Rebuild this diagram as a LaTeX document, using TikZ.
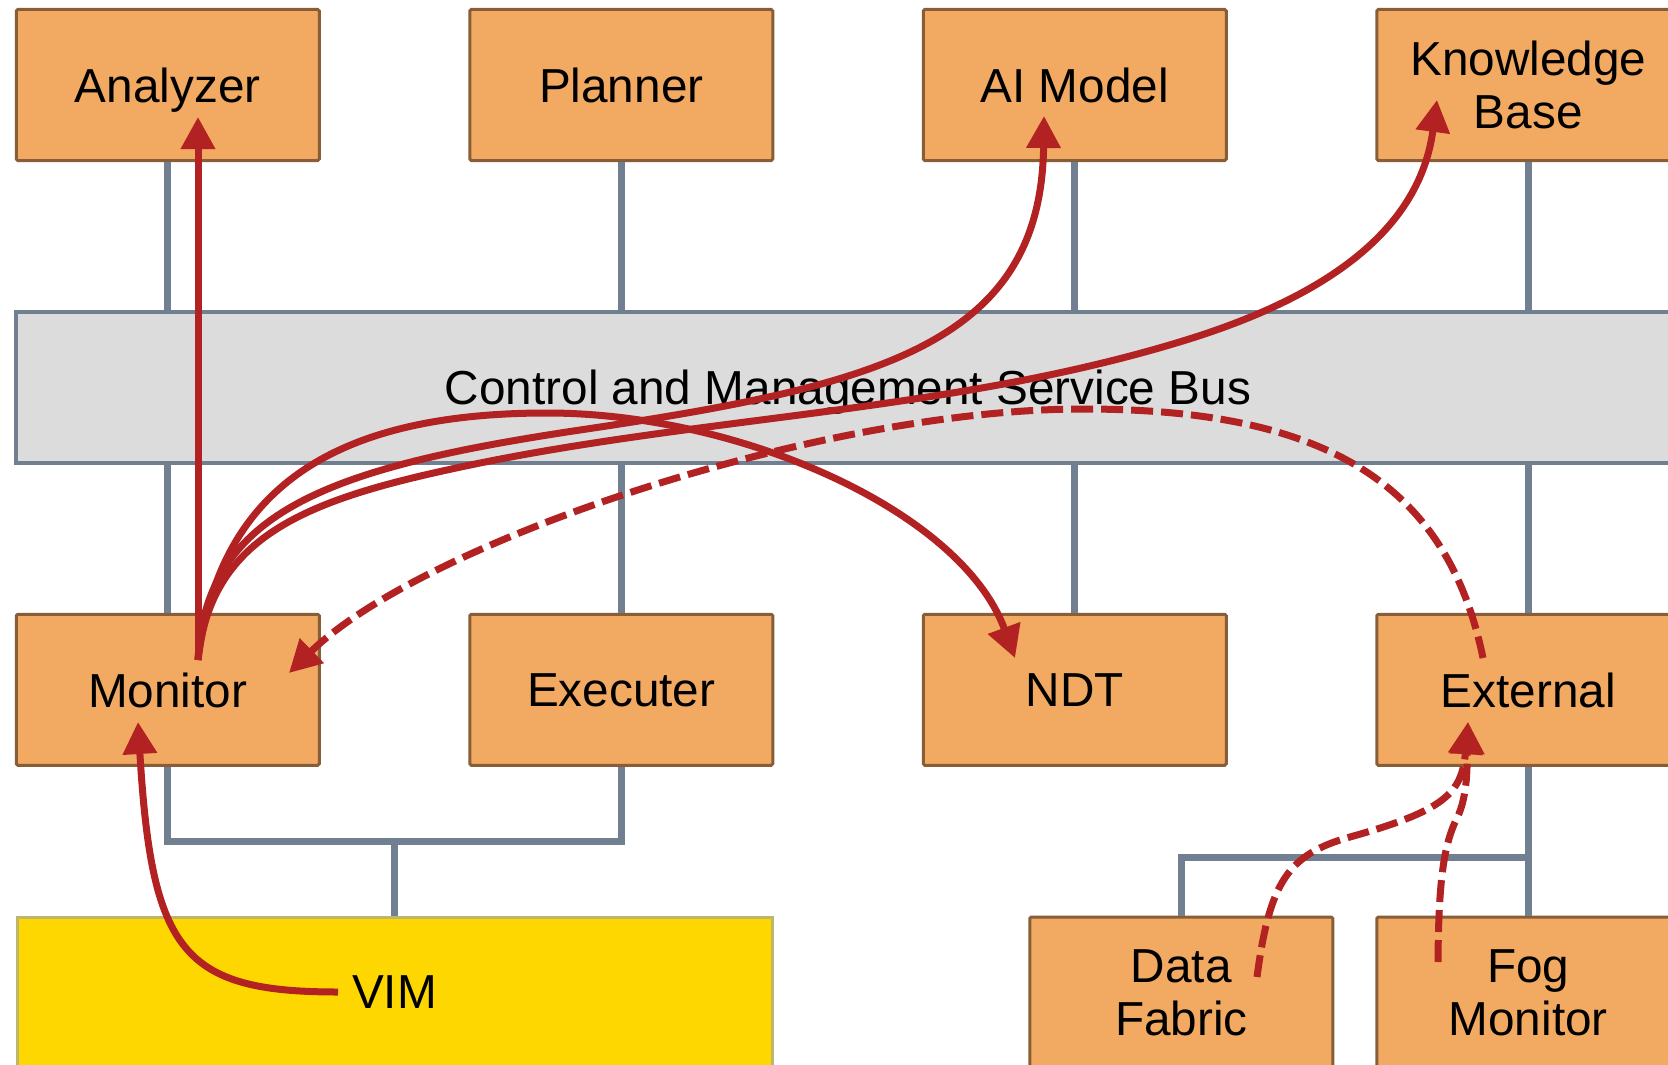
\documentclass[tikz,border=0pt]{standalone}
\usepackage{fontspec}
\setmainfont{Liberation Sans}
\usetikzlibrary{arrows.meta}
\definecolor{boxfill}{RGB}{242,169,97}
\definecolor{boxline}{RGB}{135,94,55}
\definecolor{conn}{RGB}{112,128,144}
\definecolor{busfill}{RGB}{220,220,220}
\definecolor{flow}{RGB}{178,34,34}
\definecolor{vimfill}{RGB}{255,215,0}
\definecolor{vimline}{RGB}{189,183,107}
\begin{document}
\begin{tikzpicture}[x=1pt,y=-1pt,
  comp/.style={draw=boxline, fill=boxfill, line width=3pt, minimum width=303pt,
    minimum height=151pt, inner sep=0pt, rounded corners=1.5pt,
    font=\fontsize{47.7}{53.3}\selectfont, align=center},
  oneline/.style={text depth=0pt},
  busbox/.style={draw=conn, fill=busfill, line width=3.5pt, minimum width=1664pt,
    minimum height=151pt, inner sep=0pt, font=\fontsize{47.7}{53.3}\selectfont, text depth=0pt},
  vimbox/.style={draw=vimline, fill=vimfill, line width=3pt, minimum width=755pt,
    minimum height=151pt, inner sep=0pt, font=\fontsize{47.7}{53.3}\selectfont, text depth=0pt},
  link/.style={draw=conn, line width=7pt},
  flowline/.style={draw=flow, line width=7pt, -{Triangle[width=33pt,length=32pt]}},
  flowdash/.style={flowline, dash pattern=on 22pt off 8pt},
]
\useasboundingbox (0,0) rectangle (1668,1065);

% bus
\node[busbox] (bus) at (848,387.5) {Control and Management Service Bus};

% top row
\node[comp,oneline] (analyzer) at (167.75,85) {Analyzer};
\node[comp,oneline] (planner)  at (621.25,85) {Planner};
\node[comp,oneline] (aimodel)  at (1074.75,85) {AI Model};
\node[comp] (kb) at (1528.25,85) {Knowledge\\Base};

% middle row
\node[comp,oneline] (monitor)  at (167.75,689.75) {Monitor};
\node[comp,oneline] (executer) at (621.25,689.75) {Executer};
\node[comp,oneline] (ndt)      at (1074.75,689.75) {NDT};
\node[comp,oneline] (external) at (1528.25,689.75) {External};

% bottom row
\node[vimbox] (vim) at (394.5,992.5) {VIM};
\node[comp] (datafabric) at (1181.25,992.5) {Data\\Fabric};
\node[comp] (fogmon) at (1528.25,992.5) {Fog\\Monitor};

% grey connectors
\foreach \n in {analyzer,planner,aimodel,kb}
  \draw[link] (\n.south) -- (\n.south |- bus.north);
\foreach \n in {monitor,executer,ndt,external}
  \draw[link] (\n.north) -- (\n.north |- bus.south);
\coordinate (mejoin) at (394.5,841);
\draw[link] (monitor.south) |- (mejoin) -| (executer.south);
\draw[link] (mejoin) -- (vim.north);
\coordinate (dfjoin) at (1528.25,857);
\draw[link] (external.south) -- (fogmon.north);
\draw[link] (datafabric.north) |- (dfjoin);

% flow end points
\coordinate (monS) at (198,660);
\coordinate (anaT) at (198,117);
\coordinate (aiT) at (1044,116);
\coordinate (kbT) at (1437,100);
\coordinate (ndtT) at (1015,658);
\coordinate (extS) at (1483,658);
\coordinate (monT) at (289,673);
\coordinate (vimS) at (338,992);
\coordinate (monT2) at (138,722);
\coordinate (dfS) at (1257,977);
\coordinate (fogS) at (1438,962);
\coordinate (extT) at (1468,722);

% red flows
\draw[flowline] (monS) -- (anaT);
\draw[flowline] (monS) .. controls (205,510) and (333,467) .. (580,430)
  .. controls (877,386) and (1041,345) .. (aiT);
\draw[flowline] (monS) .. controls (210,540) and (300.5,502) .. (447,470)
  .. controls (691,416) and (947,414) .. (1186,340)
  .. controls (1345.5,290.6) and (1421,219) .. (kbT);
\draw[flowline] (monS) .. controls (218.8,492) and (329,413) .. (547,413)
  .. controls (740,413) and (961.4,511) .. (ndtT);
\draw[flowdash] (extS) .. controls (1447,484) and (1326.6,409) .. (1083,409)
  .. controls (821.5,409) and (424.3,541) .. (monT);
\draw[flowline] (vimS) .. controls (182,992) and (151.8,951.5) .. (monT2);
\draw[flowdash] (dfS) .. controls (1269.6,881.7) and (1288.2,854.3) .. (1350,837)
  .. controls (1444.4,810.6) and (1462,793.4) .. (extT);
\draw[flowdash] (fogS) .. controls (1438.5,882) and (1443.6,844.8) .. (1457,818)
  .. controls (1468.2,795.7) and (1467,762) .. (extT);
\end{tikzpicture}
\end{document}
